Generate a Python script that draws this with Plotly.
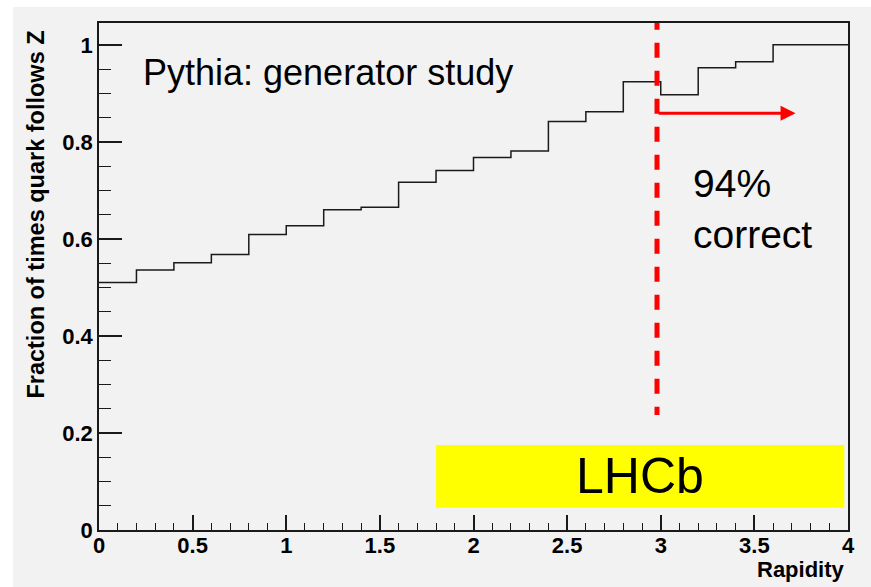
import plotly.graph_objects as go

# ---- data ----
bin_edges = [0.0, 0.2, 0.4, 0.6, 0.8, 1.0, 1.2, 1.4, 1.6, 1.8, 2.0,
             2.2, 2.4, 2.6, 2.8, 3.0, 3.2, 3.4, 3.6, 3.8, 4.0]
fraction = [0.510, 0.536, 0.551, 0.568, 0.609, 0.627, 0.660, 0.665, 0.717, 0.741,
            0.768, 0.781, 0.842, 0.862, 0.924, 0.897, 0.953, 0.965, 1.000, 1.000]
cut_rapidity = 2.98
arrow_end = 3.72
arrow_level = 0.859
lhcb_box_x = [1.80, 3.98]
lhcb_box_y = [0.046, 0.175]

FONT = "Liberation Sans, Arial, Helvetica, sans-serif"
GREY = "#f2f2f2"

step_y = fraction + [fraction[-1]]

fig = go.Figure()
fig.add_trace(go.Scatter(
    x=bin_edges, y=step_y, mode="lines", line_shape="hv",
    line=dict(color="#1a1a1a", width=1.5), hoverinfo="skip", showlegend=False))

# grey slide background (white strip at top and left)
fig.add_shape(type="rect", xref="paper", yref="paper",
              x0=-0.1148, x1=1.05, y0=-0.15, y1=1.0316,
              fillcolor=GREY, line_width=0, layer="below")

# LHCb yellow box
fig.add_shape(type="rect", xref="x", yref="y",
              x0=lhcb_box_x[0], x1=lhcb_box_x[1], y0=lhcb_box_y[0], y1=lhcb_box_y[1],
              fillcolor="#ffff00", line_width=0, layer="above")
fig.add_annotation(x=sum(lhcb_box_x) / 2, y=sum(lhcb_box_y) / 2, xref="x", yref="y",
                   text="LHCb", showarrow=False,
                   font=dict(family=FONT, size=50, color="black"),
                   xanchor="center", yanchor="middle")

# red dashed cut line
fig.add_shape(type="line", xref="x", yref="y",
              x0=cut_rapidity, x1=cut_rapidity, y0=1.062, y1=0.237,
              line=dict(color="#ff0000", width=5, dash="15px,13px"), layer="above")
# red arrow
fig.add_annotation(x=arrow_end, y=arrow_level, ax=cut_rapidity, ay=arrow_level,
                   xref="x", yref="y", axref="x", ayref="y",
                   text="", showarrow=True, arrowhead=2, arrowsize=1,
                   arrowwidth=3, arrowcolor="#ff0000", standoff=0, startstandoff=0)

# texts
fig.add_annotation(x=0.225, y=0.944, xref="x", yref="y",
                   text="Pythia: generator study", showarrow=False,
                   font=dict(family=FONT, size=36, color="black"),
                   xanchor="left", yanchor="middle")
fig.add_annotation(x=3.16, y=0.6625, xref="x", yref="y",
                   text="94%<br>correct", showarrow=False, align="left",
                   font=dict(family=FONT, size=39, color="black"),
                   xanchor="left", yanchor="middle")

# axis titles (ROOT style, aligned to the axis end)
fig.add_annotation(x=-0.0834, y=0.988, xref="paper", yref="paper",
                   text="<b>Fraction of times quark follows Z</b>", showarrow=False,
                   textangle=-90, font=dict(family=FONT, size=23.5, color="black"),
                   xanchor="center", yanchor="top")
fig.add_annotation(x=0.9987, y=-0.077, xref="paper", yref="paper",
                   text="<b>Rapidity</b>", showarrow=False,
                   font=dict(family=FONT, size=22, color="black"),
                   xanchor="right", yanchor="middle")

axis_common = dict(showline=True, linecolor="#1a1a1a", linewidth=1.6, mirror=True,
                   showgrid=False, zeroline=False, ticks="inside",
                   tickcolor="#1a1a1a", tickwidth=1.6)

fig.update_xaxes(range=[0, 4], dtick=0.5, tick0=0, ticklen=15,
                 ticklabelstandoff=-5,
                 tickfont=dict(family=FONT, size=22, color="black", weight="bold"),
                 minor=dict(dtick=0.1, ticklen=7, ticks="inside",
                            tickcolor="#1a1a1a", tickwidth=1.4),
                 **axis_common)
fig.update_yaxes(range=[0, 1.045], dtick=0.2, tick0=0, ticklen=23,
                 tickfont=dict(family=FONT, size=22, color="black", weight="bold"),
                 minor=dict(dtick=0.05, ticklen=12, ticks="inside",
                            tickcolor="#1a1a1a", tickwidth=1.4),
                 **axis_common)

fig.update_layout(width=871, height=587,
                  margin=dict(l=99, r=23, t=23, b=57, pad=0),
                  paper_bgcolor="white", plot_bgcolor="rgba(0,0,0,0)",
                  showlegend=False)

fig.write_html("out.html")
